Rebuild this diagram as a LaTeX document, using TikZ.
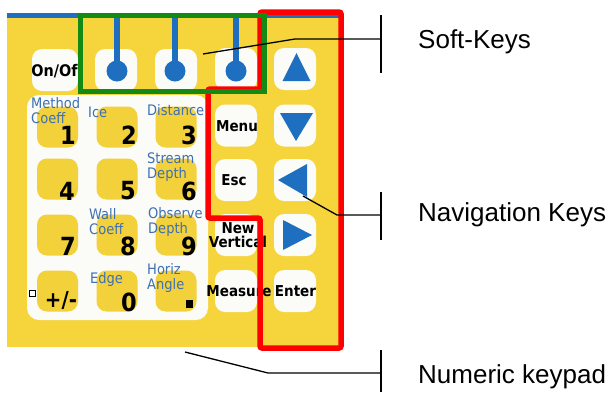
\documentclass[tikz,border=0pt]{standalone}
\usepackage{fontspec}
\setmainfont{Liberation Sans}
\newfontfamily\keyfont{DejaVuSansCondensed}[Extension=.ttf, BoldFont=DejaVuSansCondensed-Bold]
\definecolor{panelyellow}{HTML}{F5D43C}
\definecolor{keyyellow}{HTML}{F3D13A}
\definecolor{keywhite}{HTML}{FBFBF8}
\definecolor{keyblue}{HTML}{1E6FBF}
\definecolor{lblblue}{HTML}{3D6FB4}
\definecolor{framegreen}{HTML}{138A13}
\definecolor{framered}{HTML}{FF0000}
\begin{document}
\begin{tikzpicture}[x=1pt,y=-1pt,
  wkey/.style={fill=keywhite, rounded corners=10pt, minimum width=42pt, minimum height=42pt, inner sep=0pt},
  ktext/.style={font=\keyfont\bfseries\fontsize{15}{14.5}\selectfont, text=black, align=center, inner sep=0pt},
  ykey/.style={fill=keyyellow, rounded corners=10pt, minimum width=41pt, minimum height=41pt, inner sep=0pt},
  digit/.style={font=\keyfont\bfseries\fontsize{25}{25}\selectfont, inner sep=0pt, text=black},
  blbl/.style={font=\keyfont\fontsize{14.5}{15}\selectfont, text=lblblue, inner sep=0pt, anchor=west, align=left},
  callout/.style={font=\fontsize{26}{30}\selectfont, inner sep=0pt, anchor=west, text=black},
  leader/.style={draw=black, line width=1.3pt},
  lolly/.style={draw=keyblue, line width=6pt},
  arrowtri/.style={fill=keyblue}
]
\useasboundingbox (0,0) rectangle (611,392);
% panel
\fill[panelyellow] (7,13) rectangle (339,347);
\fill[keyblue] (7,13) rectangle (339,18);
% numeric area
\fill[keywhite, rounded corners=12pt] (27,95) rectangle (208,320);
% top row
\node[wkey, minimum width=46pt] (onoff) at (55,70) {};
\node[ktext, font=\keyfont\bfseries\fontsize{16}{16}\selectfont] (tonoff) at (54.5,71) {On/Of};
\node[wkey] (sk1) at (116,70) {};
\node[wkey] (sk2) at (176,70) {};
\node[wkey] (sk3) at (236,69) {};
\foreach \n/\x in {sk1/117, sk2/175, sk3/236}{
  \coordinate (\n top) at (\x,17);
  \coordinate (\n dot) at (\x,71);
  \draw[lolly] (\n top) -- (\n dot);
  \fill[keyblue] (\n dot) circle (10.5pt);
}
% right column
\node[wkey] (up) at (295,69) {};
\node[wkey] (down) at (295,125.5) {};
\node[wkey] (left) at (295,180) {};
\node[wkey] (right) at (295,235) {};
\node[wkey] (enter) at (295,291) {};
\node[ktext] (tenter) at (295.5,291) {Enter};
\fill[arrowtri] (296.5,53) -- (310.5,81) -- (282.5,81) -- cycle;
\fill[arrowtri] (280,113) -- (313,113) -- (296,141) -- cycle;
\fill[arrowtri] (278,180) -- (307,164) -- (307,197) -- cycle;
\fill[arrowtri] (283,220) -- (312,235) -- (283,250) -- cycle;
% middle column
\node[wkey] (menu) at (236,125.5) {};
\node[wkey] (esc) at (236,180) {};
\node[wkey] (newv) at (236,235) {};
\node[wkey] (meas) at (236,291) {};
\node[ktext] (tmenu) at (237,126) {Menu};
\node[ktext] (tesc) at (234,180) {Esc};
\node[ktext] (tnewv) at (238,235) {New\\Vertical};
\node[ktext] (tmeas) at (239,291) {Measure};
% numeric keys
\node[ykey] (k1) at (57.5,127) {};
\node[ykey] (k2) at (117,127) {};
\node[ykey] (k3) at (176,127) {};
\node[ykey] (k4) at (57.5,179) {};
\node[ykey] (k5) at (117,179) {};
\node[ykey] (k6) at (176,179) {};
\node[ykey] (k7) at (57.5,235) {};
\node[ykey] (k8) at (117,235) {};
\node[ykey] (k9) at (176,235) {};
\node[ykey] (kpm) at (57.5,291) {};
\node[ykey] (k0) at (117,291) {};
\node[ykey] (kdot) at (176,291) {};
\node[digit] (d1) at (68,135) {1};
\node[digit] (d2) at (129,135) {2};
\node[digit] (d3) at (189,135) {3};
\node[digit] (d4) at (67,191) {4};
\node[digit] (d5) at (128,191) {5};
\node[digit] (d6) at (189,191) {6};
\node[digit] (d7) at (68,246) {7};
\node[digit] (d8) at (128,246) {8};
\node[digit] (d9) at (189,246) {9};
\node[digit] (d0) at (129,302) {0};
\node[digit, font=\keyfont\bfseries\fontsize{22}{22}\selectfont] (dpm) at (61,300) {+/-};
\fill[black] (186,300) rectangle (193,308);
\draw[black, line width=1pt, fill=white] (29.5,290.5) rectangle (35.5,296.5);
% blue labels
\node[blbl] (lmeth) at (31,110.5) {Method\\Coeff};
\node[blbl] (lice) at (88,112) {Ice};
\node[blbl] (ldist) at (147,110) {Distance};
\node[blbl] (lstream) at (147,167) {Stream\\Depth};
\node[blbl] (lwall) at (89,221.5) {Wall\\Coeff};
\node[blbl] (lobs) at (148,221.5) {Observe\\Depth};
\node[blbl] (ledge) at (90,279.5) {Edge};
\node[blbl] (lhoriz) at (147,278) {Horiz\\Angle};
% frames
\draw[framered, line width=5.5pt, rounded corners=2pt] (260,12) -- (341,12) -- (341,348) -- (260,348) -- (260,218) -- (208,218) -- (208,89) -- (260,89) -- cycle;
\draw[framegreen, line width=5pt] (80.5,15) rectangle (264.5,91.5);
% callouts
\coordinate (skA) at (203,54);
\coordinate (skB) at (295,39);
\coordinate (skC) at (381,39);
\coordinate (skT) at (381,15);
\coordinate (skD) at (381,73);
\coordinate (nvA) at (303,196);
\coordinate (nvB) at (337,215);
\coordinate (nvC) at (381,215);
\coordinate (nvT) at (381,192);
\coordinate (nvD) at (381,240);
\coordinate (nkA) at (185,352);
\coordinate (nkB) at (268,373);
\coordinate (nkC) at (381,373);
\coordinate (nkT) at (381,350);
\coordinate (nkD) at (381,392);
\draw[leader] (skA) -- (skB) -- (skC);
\draw[leader] (skT) -- (skD);
\draw[leader] (nvA) -- (nvB) -- (nvC);
\draw[leader] (nvT) -- (nvD);
\draw[leader] (nkA) -- (nkB) -- (nkC);
\draw[leader] (nkT) -- (nkD);
\node[callout] (tsoft) at (418,42) {Soft-Keys};
\node[callout] (tnav) at (418,215) {Navigation Keys};
\node[callout] (tnum) at (418,377) {Numeric keypad};
\end{tikzpicture}
\end{document}
